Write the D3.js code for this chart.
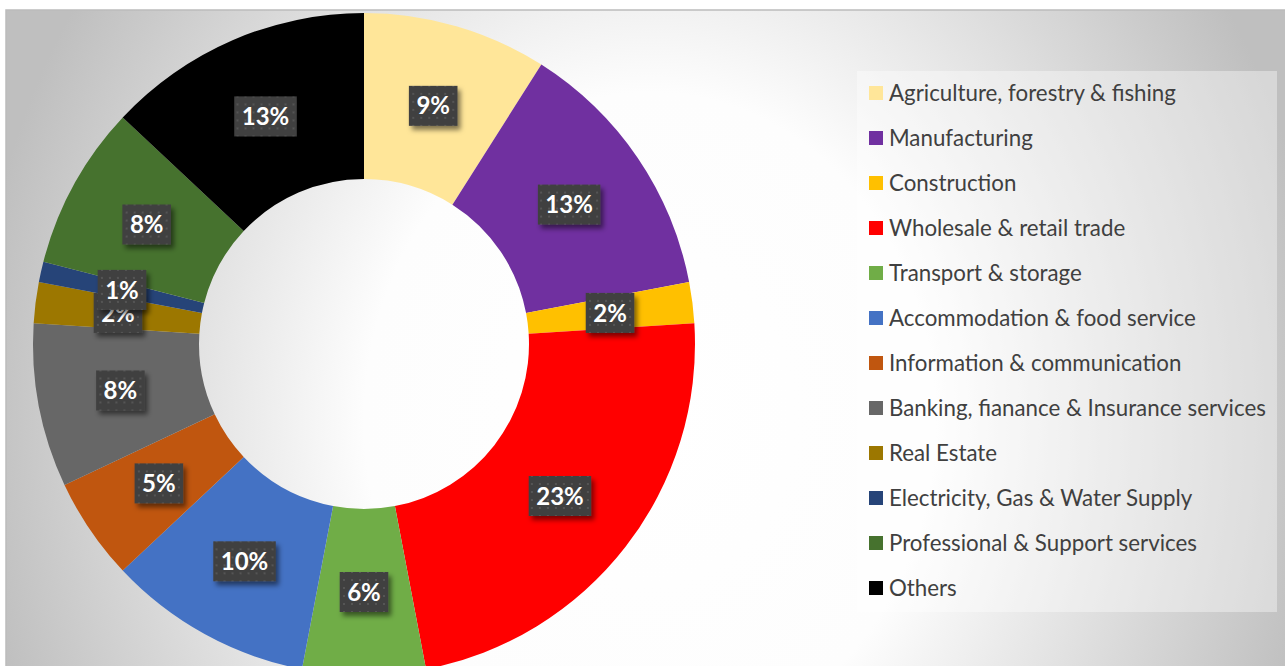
<!DOCTYPE html>
<html>
<head>
<meta charset="utf-8">
<script src="https://cdn.jsdelivr.net/npm/d3@7"></script>
<style>
  html, body { margin: 0; padding: 0; background: #ffffff; overflow: hidden; }
  svg { display: block; }
</style>
</head>
<body>
<svg id="chart" width="1285" height="666"></svg>
<script>
// Sector shares of the economy (percent)
const sectors = [
  "Agriculture, forestry & fishing",
  "Manufacturing",
  "Construction",
  "Wholesale & retail trade",
  "Transport & storage",
  "Accommodation & food service",
  "Information & communication",
  "Banking, fianance & Insurance services",
  "Real Estate",
  "Electricity, Gas & Water Supply",
  "Professional & Support services",
  "Others"
];
const shares = [9, 13, 2, 23, 6, 10, 5, 8, 2, 1, 8, 13];
const sectorColors = [
  "#FFE699", "#7030A0", "#FFC000", "#FF0000", "#70AD47", "#4472C4",
  "#C0560F", "#676767", "#9C7700", "#264478", "#46722E", "#000000"
];

const W = 1285, H = 666;
const svg = d3.select("#chart");
const defs = svg.append("defs");

// Chart-area background: soft elliptical radial gradient
const bg = defs.append("radialGradient")
  .attr("id", "bgGrad")
  .attr("gradientUnits", "userSpaceOnUse")
  .attr("cx", 0).attr("cy", 0).attr("r", 1)
  .attr("gradientTransform", "translate(650,420) scale(680,780)");
bg.append("stop").attr("offset", 0).attr("stop-color", "#ffffff");
bg.append("stop").attr("offset", 0.42).attr("stop-color", "#fdfdfd");
bg.append("stop").attr("offset", 1).attr("stop-color", "#bfbfbf");

// Dotted fill for the data-label boxes
const pat = defs.append("pattern")
  .attr("id", "dots")
  .attr("patternUnits", "userSpaceOnUse")
  .attr("width", 8).attr("height", 8);
pat.append("rect").attr("width", 8).attr("height", 8).attr("fill", "#404040");
pat.append("circle").attr("cx", 4).attr("cy", 4).attr("r", 1.1).attr("fill", "#595959");

// Drop shadow under the data-label boxes
const shadow = defs.append("filter")
  .attr("id", "boxShadow")
  .attr("x", "-30%").attr("y", "-30%").attr("width", "170%").attr("height", "170%");
shadow.append("feDropShadow")
  .attr("dx", 3).attr("dy", 4).attr("stdDeviation", 2.5)
  .attr("flood-color", "#000").attr("flood-opacity", 0.5);

// Chart area
svg.append("rect")
  .attr("x", 6).attr("y", 10)
  .attr("width", W + 20).attr("height", H + 40)
  .attr("fill", "url(#bgGrad)")
  .attr("stroke", "#bcbcbc").attr("stroke-width", 1.5);

// Doughnut
const cx = 364, cy = 344, outerR = 331, innerR = 165;
const data = sectors.map((name, i) => ({ name, value: shares[i], color: sectorColors[i] }));

const pie = d3.pie().value(d => d.value).sort(null);
const arcs = pie(data);
const arc = d3.arc().innerRadius(innerR).outerRadius(outerR);
const labelArc = d3.arc().innerRadius((innerR + outerR) / 2).outerRadius((innerR + outerR) / 2);

const g = svg.append("g").attr("transform", `translate(${cx},${cy})`);
g.selectAll("path.slice")
  .data(arcs)
  .join("path")
  .attr("class", "slice")
  .attr("d", arc)
  .attr("fill", d => d.data.color);

// Data labels
const fmt = v => v + "%";
const labels = g.selectAll("g.lbl")
  .data(arcs)
  .join("g")
  .attr("class", "lbl")
  .attr("transform", d => `translate(${labelArc.centroid(d)})`);

labels.append("rect").attr("class", "box");
labels.append("text")
  .attr("text-anchor", "middle")
  .attr("dy", "0.36em")
  .attr("fill", "#ffffff")
  .attr("font-family", "Lato, 'Open Sans', sans-serif")
  .attr("font-weight", 700)
  .attr("font-size", 24)
  .text(d => fmt(d.data.value));

labels.each(function () {
  const grp = d3.select(this);
  const tw = grp.select("text").node().getComputedTextLength();
  const bw = tw + 15, bh = 40;
  grp.select("rect")
    .attr("x", -bw / 2).attr("y", -bh / 2)
    .attr("width", bw).attr("height", bh)
    .attr("fill", "url(#dots)")
    .attr("filter", "url(#boxShadow)");
});

// Legend
const legX = 857, legY = 71, legW = 420, legH = 541;
const legend = svg.append("g");
legend.append("rect")
  .attr("x", legX).attr("y", legY)
  .attr("width", legW).attr("height", legH)
  .attr("fill", "#ffffff").attr("fill-opacity", 0.38);

const rowY = d3.scalePoint()
  .domain(sectors)
  .range([93, 588]);

const items = legend.selectAll("g.item")
  .data(data)
  .join("g")
  .attr("class", "item")
  .attr("transform", d => `translate(${legX + 12},${rowY(d.name)})`);

items.append("rect")
  .attr("x", 0).attr("y", -7)
  .attr("width", 14).attr("height", 14)
  .attr("fill", d => d.color);

items.append("text")
  .attr("x", 20)
  .attr("dy", "0.36em")
  .attr("fill", "#404040")
  .attr("font-family", "Lato, 'Open Sans', sans-serif")
  .attr("font-size", 22.3)
  .text(d => d.name);
</script>
</body>
</html>
